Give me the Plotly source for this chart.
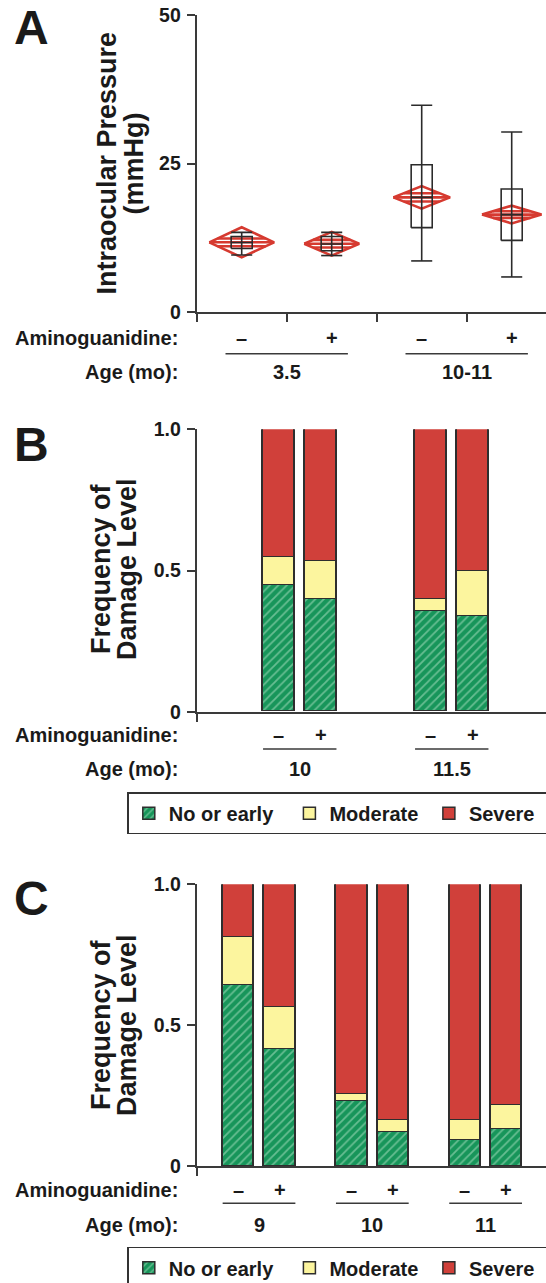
import plotly.graph_objects as go

# ---------------- DATA ----------------
# Panel A: intraocular pressure (mmHg), box + mean diamonds
a_groups = ["3.5", "10-11"]
a_drug = ["–", "+", "–", "+"]
a_pos = [0, 1, 2, 3]
a_whisk_low = [9.6, 9.5, 8.6, 5.9]
a_q1 = [10.7, 10.3, 14.2, 12.05]
a_median = [11.7, 11.45, 19.3, 16.4]
a_q3 = [12.7, 12.7, 24.8, 20.7]
a_whisk_high = [13.4, 13.4, 34.8, 30.3]
a_mean = [11.73, 11.5, 19.3, 16.4]
a_ci_low = [9.2, 9.5, 17.4, 14.9]
a_ci_high = [14.26, 13.5, 21.2, 17.9]
a_overlap = [0.65, 0.65, 0.7, 0.55]
a_diamond_halfwidth = [0.36, 0.305, 0.315, 0.33]

# Panel B: frequency of damage level
b_ages = ["10", "11.5"]
b_drug = ["–", "+", "–", "+"]
b_group = [0, 0, 1, 1]
b_side = [-1, 1, -1, 1]
b_none = [0.449, 0.399, 0.357, 0.339]
b_moderate = [0.098, 0.135, 0.041, 0.159]

# Panel C
c_ages = ["9", "10", "11"]
c_drug = ["–", "+", "–", "+", "–", "+"]
c_group = [0, 0, 1, 1, 2, 2]
c_side = [-1, 1, -1, 1, -1, 1]
c_none = [0.643, 0.414, 0.230, 0.120, 0.091, 0.132]
c_moderate = [0.169, 0.148, 0.025, 0.041, 0.070, 0.082]

levels = ["No or early", "Moderate", "Severe"]

# ---------------- STYLE ----------------
W, H = 546, 1283
FONT = "Liberation Sans, Arial, Helvetica, sans-serif"
TXT = "#1a1a1a"
AX = "#3a3a3a"
GREEN = "#17955a"
GREEN_STRIPE = "#b8e6c9"
YELLOW = "#fcf59e"
RED = "#d0403a"
DRED = "#d63a30"
NB = "\u00a0"
legend_pad = [2, 1, 1]   # trailing spaces per legend entry (spacing only)


def py(p):
    return 1 - p / H


def px(p):
    return p / W


x_left_px = 196.7
x_dom = [px(x_left_px), 1.0]

fig = go.Figure()

# ---------------- PANEL A ----------------
dx, dy = [], []
bx, by = [], []
bw = 0.117
for i, x in enumerate(a_pos):
    m = a_mean[i]
    hw = a_diamond_halfwidth[i]
    hh = (a_ci_high[i] - a_ci_low[i]) / 2
    dx += [x - hw, x, x + hw, x, x - hw, None]
    dy += [m, a_ci_high[i], m, a_ci_low[i], m, None]
    dx += [x - hw, x + hw, None]
    dy += [m, m, None]
    for s in (1, -1):
        yy = m + s * a_overlap[i]
        w = hw * (1 - a_overlap[i] / hh)
        dx += [x - w, x + w, None]
        dy += [yy, yy, None]
    # whisker through the box
    bx += [x, x, None]
    by += [a_whisk_low[i], a_whisk_high[i], None]
    for v in (a_whisk_low[i], a_whisk_high[i], a_median[i]):
        bx += [x - bw, x + bw, None]
        by += [v, v, None]
    bx += [x - bw, x + bw, x + bw, x - bw, x - bw, None]
    by += [a_q1[i], a_q1[i], a_q3[i], a_q3[i], a_q1[i], None]

fig.add_trace(go.Scatter(x=dx, y=dy, mode="lines", line=dict(color=DRED, width=2.6),
                         showlegend=False, hoverinfo="skip", xaxis="x", yaxis="y"))
fig.add_trace(go.Scatter(x=bx, y=by, mode="lines", line=dict(color="#2b2b2b", width=1.6),
                         showlegend=False, hoverinfo="skip", xaxis="x", yaxis="y"))

# ---------------- PANELS B, C ----------------
def add_bars(groups, sides, none, moderate, offset, width, xa, ya, legend, show):
    xs = [g + s * offset for g, s in zip(groups, sides)]
    severe = [1 - n - m for n, m in zip(none, moderate)]
    names = [lv + NB * n for lv, n in zip(levels, legend_pad)]
    line = dict(color="#2e2e2e", width=1.5)
    fig.add_trace(go.Bar(x=xs, y=none, width=width, name=names[0], xaxis=xa, yaxis=ya,
                         marker=dict(color=GREEN, line=line,
                                     pattern=dict(shape="/", fgcolor=GREEN_STRIPE, bgcolor=GREEN,
                                                  size=6, solidity=0.3)),
                         legend=legend, showlegend=show, hoverinfo="skip"))
    fig.add_trace(go.Bar(x=xs, y=moderate, width=width, name=names[1], xaxis=xa, yaxis=ya,
                         marker=dict(color=YELLOW, line=line),
                         legend=legend, showlegend=show, hoverinfo="skip"))
    fig.add_trace(go.Bar(x=xs, y=severe, width=width, name=names[2], xaxis=xa, yaxis=ya,
                         marker=dict(color=RED, line=line),
                         legend=legend, showlegend=show, hoverinfo="skip"))
    return xs


b_off, b_w = 0.138, 0.207
c_off, c_w = 0.183, 0.276
b_xs = add_bars(b_group, b_side, b_none, b_moderate, b_off, b_w, "x2", "y2", "legend", True)
c_xs = add_bars(c_group, c_side, c_none, c_moderate, c_off, c_w, "x3", "y3", "legend2", True)

# ---------------- AXES ----------------
tickfont = dict(family=FONT, size=19.5, color=TXT, weight="bold")
common_x = dict(showline=True, linecolor=AX, linewidth=2, ticks="outside", ticklen=8,
                tickwidth=2, tickcolor=AX, showticklabels=False, showgrid=False,
                zeroline=False, domain=x_dom, fixedrange=True)
common_y = dict(showline=True, linecolor=AX, linewidth=2, ticks="outside", ticklen=8,
                tickwidth=2, tickcolor=AX, showgrid=False, zeroline=False,
                tickfont=tickfont, fixedrange=True, ticklabelstandoff=2)

a_unit = 90.0
b_unit = 152.0
c_unit = 113.3
span = W - x_left_px
a_rng = [-0.5, -0.5 + span / a_unit]
b_rng = [-0.678, -0.678 + span / b_unit]
c_rng = [-0.55, -0.55 + span / c_unit]

fig.update_layout(
    xaxis=dict(common_x, range=a_rng, tickvals=[-0.5, 0.5, 1.5, 2.5], anchor="y"),
    yaxis=dict(common_y, range=[0, 50], tickvals=[0, 25, 50], ticktext=["0", "25", "50"],
               domain=[py(312), py(15)], anchor="x"),
    xaxis2=dict(common_x, range=b_rng, tickvals=[b_rng[0]], anchor="y2"),
    yaxis2=dict(common_y, range=[0, 1], tickvals=[0, 0.5, 1], ticktext=["0", "0.5", "1.0"],
                domain=[py(711.7), py(429.3)], anchor="x2"),
    xaxis3=dict(common_x, range=c_rng, tickvals=[c_rng[0]], anchor="y3"),
    yaxis3=dict(common_y, range=[0, 1], tickvals=[0, 0.5, 1], ticktext=["0", "0.5", "1.0"],
                domain=[py(1166), py(884.3)], anchor="x3"),
)

# ---------------- ANNOTATIONS ----------------
ann = []
shapes = []
lab = dict(family=FONT, size=20, color=TXT, weight="bold")


def text(x, y, t, xref="paper", size=None, xanchor="center", angle=0):
    f = dict(lab)
    if size:
        f["size"] = size
    ann.append(dict(x=x, y=py(y), xref=xref, yref="paper", text=t, showarrow=False,
                    font=f, xanchor=xanchor, yanchor="middle", textangle=angle))


# Panel letters
text(px(31), 28, "A", size=48)
text(px(31), 444, "B", size=48)
text(px(31), 898, "C", size=48)

# Y titles
text(px(106), 163.5, "Intraocular Pressure", size=27, angle=-90)
text(px(133), 163.5, "(mmHg)", size=27, angle=-90)
for yc in (569, 1025):
    text(px(101), yc, "Frequency of", size=27, angle=-90)
    text(px(127), yc, "Damage Level", size=27, angle=-90)

# Row labels
for (y1, y2) in ((337.7, 371.7), (735, 769.3), (1190, 1225)):
    text(px(180), y1, "Aminoguanidine:", xanchor="right")
    text(px(180), y2, "Age (mo):", xanchor="right")

# Panel A category labels
for i, x in enumerate(a_pos):
    text(x, 337.7, a_drug[i], xref="x")
for g, name in enumerate(a_groups):
    c = 2 * g + 0.5
    text(c, 371.7, name, xref="x")
    shapes.append(dict(type="line", xref="x", yref="paper", x0=c - 0.68, x1=c + 0.68,
                       y0=py(353.7), y1=py(353.7), line=dict(color=AX, width=1.5)))

# Panel B
for i, x in enumerate(b_xs):
    text(x, 735, b_drug[i], xref="x2")
for g, name in enumerate(b_ages):
    text(g, 769.3, name, xref="x2")
    shapes.append(dict(type="line", xref="x2", yref="paper", x0=g - b_off - b_w / 2,
                       x1=g + b_off + b_w / 2, y0=py(749), y1=py(749),
                       line=dict(color=AX, width=1.5)))

# Panel C
for i, x in enumerate(c_xs):
    text(x, 1190, c_drug[i], xref="x3")
for g, name in enumerate(c_ages):
    text(g, 1225, name, xref="x3")
    shapes.append(dict(type="line", xref="x3", yref="paper", x0=g - c_off - c_w / 2,
                       x1=g + c_off + c_w / 2, y0=py(1203.3), y1=py(1203.3),
                       line=dict(color=AX, width=1.5)))

legfont = dict(family=FONT, size=20, color=TXT, weight="bold")
leg_common = dict(orientation="h", xanchor="left", yanchor="top", bgcolor="white",
                  bordercolor="#333333", borderwidth=1.5, font=legfont,
                  traceorder="normal")

fig.update_layout(
    width=W, height=H, autosize=False,
    margin=dict(l=0, r=0, t=0, b=0, autoexpand=False),
    paper_bgcolor="white", plot_bgcolor="white",
    barmode="stack", bargap=0,
    annotations=ann, shapes=shapes,
    legend=dict(leg_common, x=px(127.3), y=py(792.3)),
    legend2=dict(leg_common, x=px(127.3), y=py(1246.7)),
)

fig.write_html(
    "out.html",
    config={"displayModeBar": False, "responsive": False},
    post_script="document.body.style.margin='0';document.body.style.padding='0';"
                "document.documentElement.style.overflow='hidden';document.body.style.overflow='hidden';",
)
